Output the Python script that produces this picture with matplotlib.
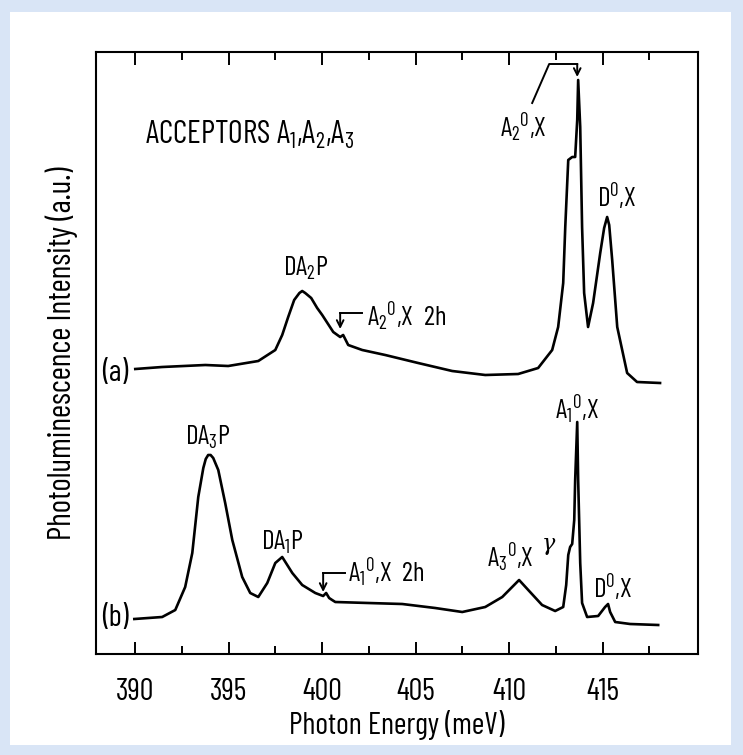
import matplotlib
matplotlib.use("Agg")
import matplotlib.pyplot as plt
from matplotlib.patches import Rectangle

plt.rcParams["font.family"] = ["Barlow Condensed", "DejaVu Sans"]
plt.rcParams["mathtext.fontset"] = "custom"
plt.rcParams["mathtext.rm"] = "Barlow Condensed"
plt.rcParams["mathtext.it"] = "Barlow Condensed:italic"
plt.rcParams["mathtext.default"] = "regular"

# spectrum (a): photon energy (meV) and intensity (a.u.)
energy_a = [390.00, 391.44, 393.75, 394.97, 396.58, 397.49, 397.86, 398.18, 398.50,
            398.78, 398.93, 399.09, 399.41, 399.73, 400.00, 400.59, 400.96, 401.12,
            401.39, 402.14, 403.37, 405.13, 406.95, 408.72, 410.48, 411.55, 412.30,
            412.62, 412.89, 413.00, 413.16, 413.37, 413.53, 413.64, 413.69, 413.80,
            413.90, 414.01, 414.22, 414.49, 414.87, 415.08, 415.24, 415.35, 415.51,
            415.78, 416.31, 416.84, 418.07]
intens_a = [301, 303, 305, 304, 309, 320, 335, 353, 370,
            377, 379, 377, 372, 362, 355, 338, 333, 335,
            325, 320, 315, 307, 299, 295, 296, 302, 320,
            343, 387, 443, 510, 513, 513, 550, 590, 543,
            443, 377, 343, 367, 417, 442, 453, 445, 410,
            343, 297, 288, 287]

# spectrum (b)
energy_b = [389.95, 391.44, 392.14, 392.67, 393.05, 393.37, 393.64, 393.77, 393.90,
            394.03, 394.17, 394.44, 394.81, 395.19, 395.72, 396.15, 396.58, 397.06,
            397.49, 397.86, 398.40, 398.93, 399.63, 400.05, 400.21, 400.37, 400.53,
            400.70, 402.46, 404.28, 406.04, 407.49, 408.72, 409.63, 410.16, 410.53,
            411.02, 411.76, 412.46, 412.89, 413.05, 413.16, 413.26, 413.37, 413.48,
            413.53, 413.64, 413.69, 413.80, 413.90, 414.17, 414.76, 415.13, 415.29,
            415.40, 415.67, 416.47, 417.97]
intens_b = [51, 53, 60, 83, 117, 173, 202, 211, 215,
            215, 212, 200, 167, 130, 93, 77, 73, 87,
            107, 113, 97, 85, 77, 74, 77, 72, 70,
            68, 67, 66, 62, 58, 63, 73, 83, 90,
            80, 65, 59, 63, 85, 115, 123, 126, 150,
            190, 248, 190, 107, 67, 53, 54, 63, 66,
            58, 48, 46, 45]

xticks = [390, 395, 400, 405, 410, 415]
minor_xticks = [392.5, 397.5, 402.5, 407.5, 412.5, 417.5]

fig = plt.figure(figsize=(7.43, 7.55), dpi=100)
fig.patch.set_facecolor("#d9e5f6")
fig.patches.append(Rectangle((10 / 743, 10 / 755), 721 / 743, 733 / 755,
                             transform=fig.transFigure, facecolor="white",
                             edgecolor="none", zorder=-10))

ax = fig.add_axes([96 / 743, 101 / 755, 602 / 743, 602 / 755])
ax.set_facecolor("white")
ax.plot(energy_a, intens_a, color="black", lw=1.9, solid_joinstyle="round")
ax.plot(energy_b, intens_b, color="black", lw=1.9, solid_joinstyle="round")

ax.set_xlim(387.9, 420.1)
ax.set_ylim(16, 618)
ax.set_yticks([])
ax.set_xticks(xticks)
ax.set_xticks(minor_xticks, minor=True)
ax.tick_params(axis="x", which="both", direction="in", top=True, width=1.4,
               labelsize=22, pad=17)
ax.tick_params(axis="x", which="major", length=9)
ax.tick_params(axis="x", which="minor", length=6)
for s in ax.spines.values():
    s.set_linewidth(1.5)

ax.set_xlabel("Photon Energy (meV)", fontsize=22)
ax.xaxis.set_label_coords(0.5, -0.093)
ax.set_ylabel("Photoluminescence Intensity (a.u.)", fontsize=23)
ax.yaxis.set_label_coords(-0.03, 0.5)

fs = 19.5
ax.text(390.53, 535, "ACCEPTORS A$_1$,A$_2$,A$_3$", fontsize=23, ha="left", va="center")
ax.text(388.93, 297, "(a)", fontsize=22, ha="center", va="center")
ax.text(388.93, 52, "(b)", fontsize=22, ha="center", va="center")
ax.text(399.09, 402, "DA$_2$P", fontsize=fs, ha="center", va="center")
ax.text(402.41, 353, "A$_2$$^0$,X  2h", fontsize=fs, ha="left", va="center")
ax.text(409.52, 542, "A$_2$$^0$,X", fontsize=fs, ha="left", va="center")
ax.text(414.71, 473, "D$^0$,X", fontsize=fs, ha="left", va="center")
ax.text(393.90, 233, "DA$_3$P", fontsize=fs, ha="center", va="center")
ax.text(397.86, 128, "DA$_1$P", fontsize=fs, ha="center", va="center")
ax.text(401.39, 97, "A$_1$$^0$,X  2h", fontsize=fs, ha="left", va="center")
ax.text(408.82, 112, "A$_3$$^0$,X", fontsize=fs, ha="left", va="center")
ax.text(411.75, 126, "γ", fontsize=16, family="DejaVu Serif", style="italic",
        ha="left", va="center")
ax.text(412.46, 260, "A$_1$$^0$,X", fontsize=fs, ha="left", va="center")
ax.text(414.49, 82, "D$^0$,X", fontsize=fs, ha="left", va="center")

arrow = dict(arrowstyle="->", color="black", lw=1.4, shrinkA=0, shrinkB=0,
             mutation_scale=12)
# A2 0,X 2h elbow arrow
ax.plot([402.14, 400.96], [357, 357], color="black", lw=1.4)
ax.annotate("", xy=(400.96, 341), xytext=(400.96, 357), arrowprops=arrow)
# A2 0,X leader to main peak
ax.plot([411.23, 412.14, 413.64], [567, 606, 606], color="black", lw=1.4,
        clip_on=False)
ax.annotate("", xy=(413.64, 593), xytext=(413.64, 606), arrowprops=arrow)
# A1 0,X 2h elbow arrow
ax.plot([401.23, 400.05], [97, 97], color="black", lw=1.4)
ax.annotate("", xy=(400.05, 78), xytext=(400.05, 97), arrowprops=arrow)

fig.savefig("out.png", dpi=100)
